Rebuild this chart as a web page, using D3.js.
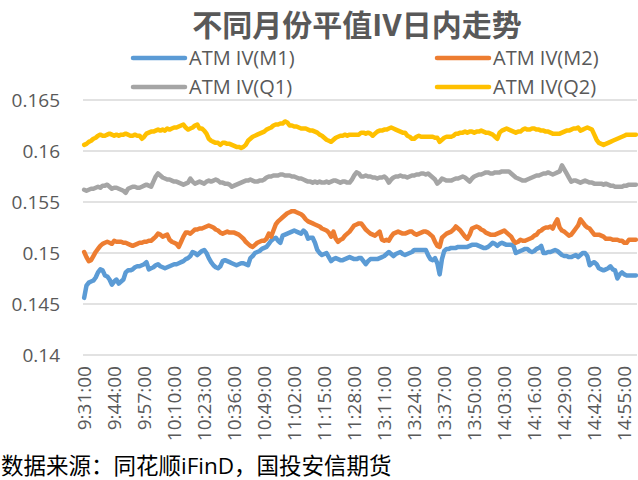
<!DOCTYPE html>
<html>
<head>
<meta charset="utf-8">
<script src="https://cdn.jsdelivr.net/npm/d3@7"></script>
<style>
  body { margin: 0; background: #fff; }
  text { font-family: "Open Sans", "Noto Sans CJK SC", sans-serif; }
</style>
</head>
<body>
<div id="chart"></div>
<script>
var width = 638
var height = 480

// trading sessions, one point per minute
var sessions = [['9:31', '11:30'], ['13:01', '15:00']]

var tickLabels = ['9:31:00', '9:44:00', '9:57:00', '10:10:00', '10:23:00', '10:36:00', '10:49:00',
  '11:02:00', '11:15:00', '11:28:00', '13:11:00', '13:24:00', '13:37:00', '13:50:00',
  '14:03:00', '14:16:00', '14:29:00', '14:42:00', '14:55:00']

var yTicks = [0.14, 0.145, 0.15, 0.155, 0.16, 0.165]

var seriesNames = ['ATM IV(M1)', 'ATM IV(M2)', 'ATM IV(Q1)', 'ATM IV(Q2)']

var m1 = [
  0.1456, 0.1468, 0.1471, 0.1472, 0.1473, 0.1476, 0.1481, 0.1484, 0.1483, 0.1478,
  0.1477, 0.1474, 0.1469, 0.1472, 0.1474, 0.1470, 0.1472, 0.1474, 0.1481, 0.1483,
  0.1483, 0.1484, 0.1486, 0.1487, 0.1487, 0.1488, 0.1489, 0.1491, 0.1484, 0.1485,
  0.1486, 0.1488, 0.1489, 0.1487, 0.1486, 0.1485, 0.1486, 0.1487, 0.1488, 0.1489,
  0.1489, 0.1490, 0.1491, 0.1492, 0.1494, 0.1495, 0.1497, 0.1501, 0.1500, 0.1498,
  0.1500, 0.1502, 0.1503, 0.1500, 0.1495, 0.1491, 0.1488, 0.1486, 0.1485, 0.1487,
  0.1492, 0.1493, 0.1492, 0.1491, 0.1490, 0.1489, 0.1488, 0.1489, 0.1490, 0.1490,
  0.1489, 0.1488, 0.1495, 0.1497, 0.1500, 0.1501, 0.1502, 0.1504, 0.1505, 0.1506,
  0.1509, 0.1512, 0.1514, 0.1515, 0.1512, 0.1510, 0.1517, 0.1518, 0.1519, 0.1520,
  0.1521, 0.1522, 0.1521, 0.1520, 0.1519, 0.1522, 0.1520, 0.1514, 0.1515, 0.1515,
  0.1510, 0.1503, 0.1500, 0.1498, 0.1499, 0.1500, 0.1496, 0.1492, 0.1494, 0.1495,
  0.1494, 0.1493, 0.1493, 0.1494, 0.1495, 0.1496, 0.1495, 0.1494, 0.1494, 0.1495,
  0.1495, 0.1492, 0.1489, 0.1492, 0.1494, 0.1494, 0.1494, 0.1494, 0.1495, 0.1496,
  0.1497, 0.1499, 0.1501, 0.1499, 0.1497, 0.1499, 0.1500, 0.1501, 0.1499, 0.1498,
  0.1499, 0.1500, 0.1501, 0.1503, 0.1503, 0.1503, 0.1503, 0.1503, 0.1503, 0.1498,
  0.1494, 0.1493, 0.1495, 0.1490, 0.1479, 0.1494, 0.1502, 0.1504, 0.1504, 0.1505,
  0.1505, 0.1505, 0.1506, 0.1506, 0.1506, 0.1506, 0.1506, 0.1507, 0.1508, 0.1508,
  0.1508, 0.1507, 0.1506, 0.1505, 0.1505, 0.1506, 0.1508, 0.1510, 0.1509, 0.1507,
  0.1509, 0.1510, 0.1509, 0.1508, 0.1508, 0.1508, 0.1507, 0.1500, 0.1501, 0.1502,
  0.1503, 0.1504, 0.1504, 0.1502, 0.1501, 0.1502, 0.1504, 0.1505, 0.1507, 0.1500,
  0.1500, 0.1501, 0.1501, 0.1502, 0.1503, 0.1502, 0.1500, 0.1498, 0.1497, 0.1497,
  0.1496, 0.1496, 0.1497, 0.1498, 0.1496, 0.1498, 0.1500, 0.1500, 0.1497, 0.1488,
  0.1490, 0.1491, 0.1489, 0.1485, 0.1484, 0.1483, 0.1484, 0.1485, 0.1487, 0.1484,
  0.1483, 0.1475, 0.1479, 0.1481, 0.1479, 0.1478, 0.1478, 0.1478, 0.1478, 0.1478
]

var m2 = [
  0.1501, 0.1496, 0.1492, 0.1493, 0.1497, 0.1501, 0.1504, 0.1507, 0.1509, 0.1510,
  0.1511, 0.1510, 0.1509, 0.1512, 0.1511, 0.1511, 0.1511, 0.1510, 0.1510, 0.1509,
  0.1508, 0.1507, 0.1508, 0.1509, 0.1510, 0.1510, 0.1511, 0.1511, 0.1512, 0.1512,
  0.1514, 0.1516, 0.1519, 0.1518, 0.1516, 0.1517, 0.1518, 0.1513, 0.1511, 0.1510,
  0.1509, 0.1506, 0.1511, 0.1516, 0.1520, 0.1520, 0.1519, 0.1521, 0.1523, 0.1523,
  0.1524, 0.1524, 0.1525, 0.1526, 0.1527, 0.1526, 0.1525, 0.1523, 0.1522, 0.1520,
  0.1519, 0.1520, 0.1521, 0.1520, 0.1520, 0.1520, 0.1519, 0.1518, 0.1516, 0.1514,
  0.1511, 0.1509, 0.1507, 0.1506, 0.1508, 0.1510, 0.1511, 0.1512, 0.1512, 0.1514,
  0.1519, 0.1516, 0.1522, 0.1528, 0.1531, 0.1533, 0.1535, 0.1537, 0.1539, 0.1540,
  0.1541, 0.1541, 0.1540, 0.1539, 0.1538, 0.1536, 0.1533, 0.1531, 0.1530, 0.1529,
  0.1528, 0.1527, 0.1526, 0.1524, 0.1523, 0.1522, 0.1520, 0.1516, 0.1521, 0.1514,
  0.1511, 0.1513, 0.1514, 0.1517, 0.1519, 0.1521, 0.1524, 0.1527, 0.1528, 0.1529,
  0.1529, 0.1526, 0.1523, 0.1521, 0.1519, 0.1518, 0.1517, 0.1519, 0.1521, 0.1513,
  0.1512, 0.1513, 0.1512, 0.1516, 0.1519, 0.1520, 0.1521, 0.1520, 0.1519, 0.1519,
  0.1520, 0.1521, 0.1521, 0.1519, 0.1518, 0.1519, 0.1520, 0.1521, 0.1521, 0.1520,
  0.1518, 0.1516, 0.1511, 0.1507, 0.1506, 0.1515, 0.1517, 0.1519, 0.1520, 0.1521,
  0.1523, 0.1526, 0.1524, 0.1522, 0.1519, 0.1516, 0.1514, 0.1518, 0.1524, 0.1525,
  0.1526, 0.1525, 0.1523, 0.1522, 0.1520, 0.1519, 0.1518, 0.1518, 0.1518, 0.1519,
  0.1520, 0.1521, 0.1522, 0.1520, 0.1518, 0.1516, 0.1512, 0.1510, 0.1511, 0.1513,
  0.1512, 0.1512, 0.1513, 0.1514, 0.1515, 0.1517, 0.1518, 0.1521, 0.1522, 0.1524,
  0.1525, 0.1525, 0.1526, 0.1524, 0.1529, 0.1533, 0.1525, 0.1522, 0.1521, 0.1519,
  0.1517, 0.1518, 0.1521, 0.1524, 0.1527, 0.1533, 0.1530, 0.1527, 0.1525, 0.1524,
  0.1521, 0.1518, 0.1518, 0.1518, 0.1517, 0.1516, 0.1514, 0.1514, 0.1514, 0.1513,
  0.1513, 0.1513, 0.1512, 0.1512, 0.1510, 0.1510, 0.1513, 0.1513, 0.1513, 0.1513
]

var q1 = [
  0.1562, 0.1561, 0.1562, 0.1563, 0.1563, 0.1564, 0.1565, 0.1564, 0.1566, 0.1566,
  0.1567, 0.1565, 0.1563, 0.1564, 0.1564, 0.1563, 0.1562, 0.1561, 0.1559, 0.1563,
  0.1564, 0.1565, 0.1565, 0.1564, 0.1564, 0.1565, 0.1566, 0.1567, 0.1566, 0.1565,
  0.1570, 0.1575, 0.1578, 0.1576, 0.1574, 0.1573, 0.1572, 0.1572, 0.1571, 0.1570,
  0.1570, 0.1569, 0.1568, 0.1567, 0.1568, 0.1569, 0.1573, 0.1570, 0.1568, 0.1569,
  0.1570, 0.1569, 0.1568, 0.1570, 0.1571, 0.1570, 0.1571, 0.1572, 0.1571, 0.1569,
  0.1569, 0.1568, 0.1568, 0.1567, 0.1565, 0.1566, 0.1567, 0.1568, 0.1569, 0.1570,
  0.1571, 0.1571, 0.1572, 0.1571, 0.1570, 0.1570, 0.1571, 0.1571, 0.1572, 0.1574,
  0.1575, 0.1575, 0.1576, 0.1576, 0.1576, 0.1577, 0.1577, 0.1576, 0.1576, 0.1576,
  0.1575, 0.1575, 0.1574, 0.1573, 0.1573, 0.1572, 0.1571, 0.1570, 0.1570, 0.1569,
  0.1570, 0.1569, 0.1570, 0.1569, 0.1569, 0.1570, 0.1569, 0.1570, 0.1571, 0.1571,
  0.1570, 0.1569, 0.1570, 0.1570, 0.1569, 0.1569, 0.1572, 0.1576, 0.1579, 0.1578,
  0.1575, 0.1575, 0.1576, 0.1575, 0.1575, 0.1574, 0.1574, 0.1573, 0.1574, 0.1574,
  0.1575, 0.1573, 0.1569, 0.1572, 0.1574, 0.1575, 0.1575, 0.1576, 0.1575, 0.1575,
  0.1574, 0.1575, 0.1576, 0.1576, 0.1577, 0.1577, 0.1578, 0.1578, 0.1577, 0.1578,
  0.1576, 0.1574, 0.1572, 0.1568, 0.1570, 0.1573, 0.1572, 0.1571, 0.1571, 0.1571,
  0.1572, 0.1573, 0.1573, 0.1574, 0.1575, 0.1574, 0.1572, 0.1570, 0.1573, 0.1575,
  0.1576, 0.1577, 0.1577, 0.1578, 0.1579, 0.1579, 0.1578, 0.1578, 0.1579, 0.1579,
  0.1579, 0.1580, 0.1580, 0.1580, 0.1580, 0.1578, 0.1576, 0.1574, 0.1573, 0.1572,
  0.1571, 0.1571, 0.1572, 0.1573, 0.1574, 0.1575, 0.1576, 0.1576, 0.1577, 0.1578,
  0.1578, 0.1579, 0.1578, 0.1577, 0.1578, 0.1579, 0.1580, 0.1586, 0.1582, 0.1578,
  0.1574, 0.1570, 0.1571, 0.1571, 0.1570, 0.1569, 0.1570, 0.1571, 0.1570, 0.1569,
  0.1569, 0.1568, 0.1568, 0.1568, 0.1568, 0.1567, 0.1568, 0.1567, 0.1566, 0.1566,
  0.1565, 0.1565, 0.1565, 0.1565, 0.1566, 0.1566, 0.1567, 0.1567, 0.1567, 0.1567
]

var q2 = [
  0.1606, 0.1607, 0.1609, 0.1610, 0.1612, 0.1613, 0.1615, 0.1616, 0.1615, 0.1615,
  0.1616, 0.1617, 0.1616, 0.1615, 0.1616, 0.1615, 0.1616, 0.1616, 0.1617, 0.1616,
  0.1615, 0.1615, 0.1616, 0.1615, 0.1615, 0.1612, 0.1614, 0.1617, 0.1618, 0.1619,
  0.1619, 0.1620, 0.1621, 0.1620, 0.1621, 0.1620, 0.1622, 0.1621, 0.1622, 0.1623,
  0.1623, 0.1624, 0.1625, 0.1626, 0.1623, 0.1621, 0.1622, 0.1623, 0.1625, 0.1626,
  0.1622, 0.1622, 0.1620, 0.1617, 0.1612, 0.1610, 0.1609, 0.1608, 0.1608, 0.1606,
  0.1608, 0.1608, 0.1607, 0.1607, 0.1606, 0.1605, 0.1604, 0.1604, 0.1603, 0.1604,
  0.1606, 0.1610, 0.1612, 0.1614, 0.1615, 0.1616, 0.1617, 0.1618, 0.1619, 0.1621,
  0.1622, 0.1623, 0.1625, 0.1626, 0.1626, 0.1627, 0.1627, 0.1629, 0.1628, 0.1625,
  0.1625, 0.1624, 0.1624, 0.1623, 0.1622, 0.1622, 0.1622, 0.1621, 0.1620, 0.1620,
  0.1619, 0.1618, 0.1616, 0.1615, 0.1613, 0.1611, 0.1610, 0.1609, 0.1611, 0.1613,
  0.1614, 0.1615, 0.1615, 0.1616, 0.1615, 0.1616, 0.1616, 0.1616, 0.1616, 0.1616,
  0.1618, 0.1618, 0.1617, 0.1618, 0.1617, 0.1615, 0.1617, 0.1619, 0.1620, 0.1620,
  0.1621, 0.1621, 0.1622, 0.1623, 0.1622, 0.1621, 0.1620, 0.1619, 0.1618, 0.1618,
  0.1615, 0.1614, 0.1612, 0.1612, 0.1614, 0.1615, 0.1614, 0.1614, 0.1614, 0.1614,
  0.1614, 0.1614, 0.1613, 0.1613, 0.1609, 0.1611, 0.1613, 0.1614, 0.1614, 0.1614,
  0.1615, 0.1617, 0.1617, 0.1618, 0.1618, 0.1619, 0.1618, 0.1619, 0.1619, 0.1618,
  0.1619, 0.1619, 0.1620, 0.1619, 0.1618, 0.1618, 0.1617, 0.1616, 0.1614, 0.1612,
  0.1618, 0.1620, 0.1621, 0.1622, 0.1621, 0.1620, 0.1619, 0.1618, 0.1619, 0.1619,
  0.1621, 0.1622, 0.1621, 0.1621, 0.1622, 0.1622, 0.1621, 0.1621, 0.1620, 0.1620,
  0.1619, 0.1619, 0.1618, 0.1617, 0.1617, 0.1617, 0.1617, 0.1618, 0.1619, 0.1620,
  0.1620, 0.1621, 0.1622, 0.1622, 0.1623, 0.1620, 0.1621, 0.1622, 0.1623, 0.1622,
  0.1621, 0.1616, 0.1611, 0.1608, 0.1607, 0.1606, 0.1607, 0.1608, 0.1609, 0.1610,
  0.1611, 0.1612, 0.1613, 0.1614, 0.1615, 0.1616, 0.1616, 0.1616, 0.1616, 0.1616
]

var colors = ['#5B9BD5', '#ED7D31', '#A5A5A5', '#FFC000']

function toMin(s) {
  var p = s.split(':')
  return +p[0] * 60 + +p[1]
}

var times = []
sessions.forEach(function(se) {
  for (var t = toMin(se[0]); t <= toMin(se[1]); t++) {
    times.push(Math.floor(t / 60) + ':' + d3.format('02')(t % 60) + ':00')
  }
})

var series = [m1, m2, q1, q2]

var svg = d3.select('#chart').append('svg')
  .attr('width', width)
  .attr('height', height)

var plotLeft = 83, plotRight = 637, plotTop = 100, plotBottom = 355

var x = d3.scalePoint().domain(times).range([plotLeft, plotRight]).padding(0.5)
var y = d3.scaleLinear().domain([0.14, 0.165]).range([plotBottom, plotTop])

// gridlines
svg.append('g').selectAll('line').data(yTicks).enter().append('line')
  .attr('x1', plotLeft).attr('x2', plotRight)
  .attr('y1', function(d) { return y(d) }).attr('y2', function(d) { return y(d) })
  .attr('stroke', '#d9d9d9').attr('stroke-width', 1.3)

// y labels
svg.append('g').selectAll('text').data(yTicks).enter().append('text')
  .attr('x', 60).attr('y', function(d) { return y(d) + 7 })
  .attr('text-anchor', 'end')
  .attr('font-size', 19).attr('fill', '#595959')
  .text(function(d) { return d3.format('')(d) })

// x labels
svg.append('g').selectAll('text').data(tickLabels).enter().append('text')
  .attr('transform', function(d) { return 'translate(' + (x(d) + 7) + ',366) rotate(-90)' })
  .attr('text-anchor', 'end')
  .attr('font-size', 19).attr('fill', '#595959')
  .text(function(d) { return d })

var line = d3.line()
  .x(function(d, i) { return x(times[i]) })
  .y(function(d) { return y(d) })

svg.append('g').selectAll('path').data(series).enter().append('path')
  .attr('d', line)
  .attr('fill', 'none')
  .attr('stroke', function(d, i) { return colors[i] })
  .attr('stroke-width', 4.5)
  .attr('stroke-linejoin', 'round')
  .attr('stroke-linecap', 'round')

// title
svg.append('text')
  .attr('x', 357).attr('y', 36)
  .attr('text-anchor', 'middle')
  .attr('font-size', 30).attr('font-weight', 'bold')
  .attr('font-family', '"Noto Sans CJK SC", sans-serif')
  .attr('fill', '#595959')
  .text('不同月份平值IV日内走势')

// legend 2x2
var legendPos = [[133, 58], [437, 58], [133, 87], [437, 87]]
var leg = svg.append('g').selectAll('g').data(seriesNames).enter().append('g')
  .attr('transform', function(d, i) { return 'translate(' + legendPos[i][0] + ',' + legendPos[i][1] + ')' })
leg.append('line')
  .attr('x1', 0).attr('x2', 52).attr('y1', 0).attr('y2', 0)
  .attr('stroke', function(d, i) { return colors[i] })
  .attr('stroke-width', 4.5).attr('stroke-linecap', 'round')
leg.append('text')
  .attr('x', 56).attr('y', 7)
  .attr('font-size', 20).attr('fill', '#595959')
  .text(function(d) { return d })

// source note
svg.append('text')
  .attr('x', 1).attr('y', 474)
  .attr('font-size', 22.5)
  .attr('font-family', '"Noto Sans CJK SC", sans-serif')
  .attr('fill', '#000')
  .text('数据来源：同花顺iFinD，国投安信期货')
</script>
</body>
</html>
